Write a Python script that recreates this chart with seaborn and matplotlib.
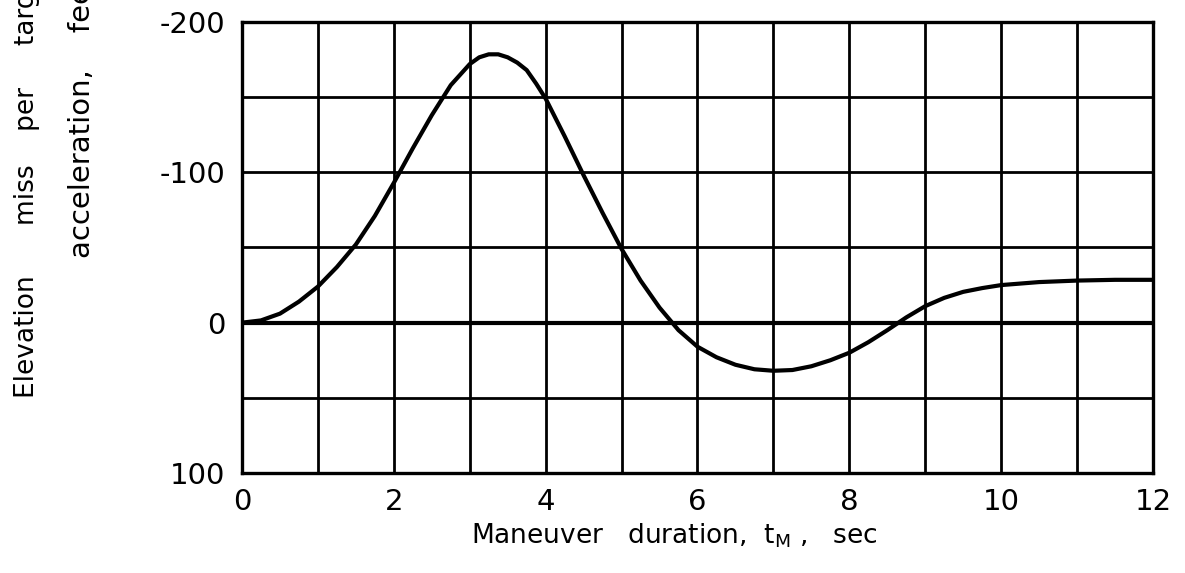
import matplotlib
matplotlib.use("Agg")
import matplotlib.pyplot as plt
import seaborn as sns
import pandas as pd

# Elevation miss per unit target acceleration versus maneuver duration
duration_s = [0.0, 0.25, 0.5, 0.75, 1.0, 1.25, 1.5, 1.75, 2.0, 2.25, 2.5, 2.75,
              3.0, 3.125, 3.25, 3.375, 3.5, 3.625, 3.75, 3.875, 4.0, 4.25, 4.5,
              4.75, 5.0, 5.25, 5.5, 5.75, 6.0, 6.25, 6.5, 6.75, 7.0, 7.25, 7.5,
              7.75, 8.0, 8.25, 8.5, 8.75, 9.0, 9.25, 9.5, 9.75, 10.0, 10.5,
              11.0, 11.5, 12.0]
elevation_miss = [0, -1.5, -6, -14, -24, -37, -52, -71, -93, -116, -138, -158,
                  -172, -176.5, -178.5, -178.5, -176.5, -173, -168, -159, -149,
                  -124, -98, -73, -49, -28, -10, 5, 16, 23, 28, 31, 32, 31.5,
                  29, 25, 20, 13, 5, -3.5, -11, -16.5, -20.5, -23, -25, -27,
                  -28, -28.5, -28.5]

x_ticks = list(range(13))
x_tick_labels = ["0", "", "2", "", "4", "", "6", "", "8", "", "10", "", "12"]
y_ticks = [-200, -150, -100, -50, 0, 50, 100]
y_tick_labels = ["-200", "", "-100", "", "0", "", "100"]

sns.set_theme(style="white")
plt.rcParams["font.family"] = ["DejaVu Sans"]

W, H = 1185, 573
fig = plt.figure(figsize=(W / 100, H / 100), dpi=100)
ax = fig.add_axes([242 / W, 1 - 473 / H, (1153 - 242) / W, (473 - 22) / H])

df = pd.DataFrame({"duration": duration_s, "miss": elevation_miss})
sns.lineplot(data=df, x="duration", y="miss", ax=ax, color="black",
             linewidth=3.0, zorder=5)

ax.set_xlim(0, 12)
ax.set_ylim(100, -200)
ax.set_xticks(x_ticks)
ax.set_xticklabels(x_tick_labels)
ax.set_yticks(y_ticks)
ax.set_yticklabels(y_tick_labels)
ax.grid(True, color="black", linewidth=2.0)
ax.axhline(0, color="black", linewidth=3.0, zorder=4)
ax.tick_params(length=0, labelsize=21, colors="black")
ax.tick_params(axis="x", pad=11)
ax.tick_params(axis="y", pad=12)
for spine in ax.spines.values():
    spine.set_color("black")
    spine.set_linewidth(2.4)
ax.set_xlabel("")
ax.set_ylabel("")

fig.text(674 / W, 1 - 543 / H,
         r"Maneuver   duration,  $\mathregular{t_M}$ ,   sec",
         ha="center", va="baseline", fontsize=19, color="black")

fig.text(27 / W, 1 - 398 / H, "Elevation      miss    per     target",
         rotation=90, ha="center", va="bottom", fontsize=19, color="black")
fig.text(82 / W, 1 - 258 / H, "acceleration,    feet/g",
         rotation=90, ha="center", va="bottom", fontsize=21, color="black")

fig.savefig("out.png", dpi=100)
